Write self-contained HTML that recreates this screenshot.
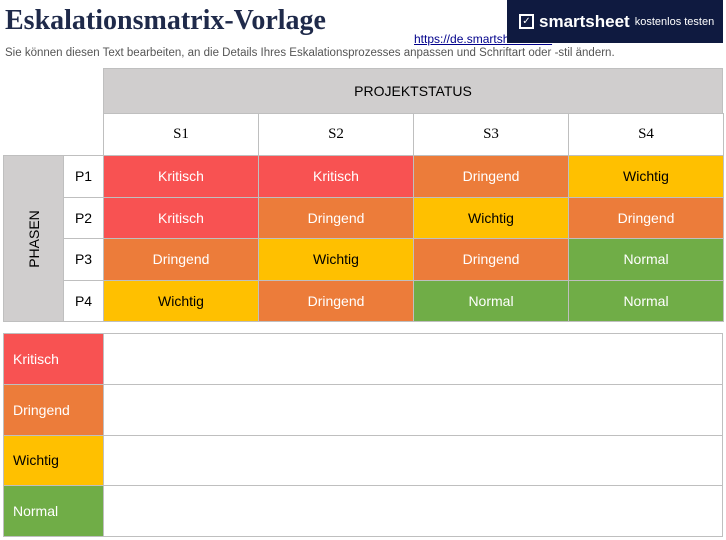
<!DOCTYPE html>
<html><head><meta charset="utf-8"><style>
body{margin:0;width:726px;height:540px;background:#fff;position:relative;font-family:"Liberation Sans",sans-serif;overflow:hidden}
.a{position:absolute;box-sizing:border-box;display:flex;align-items:center;justify-content:center;font-size:14px}
.b{border:1px solid #bfbfbf}
.r{background:#F85252;color:#fff}.o{background:#EC7C3A;color:#fff}.y{background:#FFC000;color:#000}.g{background:#70AD47;color:#fff}
</style></head><body>
<div style="position:absolute;left:5px;top:5px;font:bold 28px 'Liberation Serif',serif;color:#1f2a4a">Eskalationsmatrix-Vorlage</div>
<a style="position:absolute;left:414px;top:32px;font-size:12px;color:#00008b;text-decoration:underline">https://de.smartsheet.com</a>
<div style="position:absolute;left:507px;top:0;width:216px;height:43px;background:#0f1a40;color:#fff;display:flex;align-items:center;padding-left:12px;box-sizing:border-box"><span style="display:inline-block;width:11px;height:11px;border:2px solid #fff;font-size:10px;line-height:11px;text-align:center;margin-right:5px">✓</span><b style="font-size:17px">smartsheet</b><span style="font-size:11px;margin-left:5px">kostenlos testen</span></div>
<div style="position:absolute;left:5px;top:47px;font-size:11.5px;color:#555">Sie können diesen Text bearbeiten, an die Details Ihres Eskalationsprozesses anpassen und Schriftart oder -stil ändern.</div>
<div id="m"></div>
<script>
const cols=["S1","S2","S3","S4"];
const rows=["P1","P2","P3","P4"];
const vals=[["r","r","o","y"],["r","o","y","o"],["o","y","o","g"],["y","o","g","g"]];
const names={r:"Kritisch",o:"Dringend",y:"Wichtig",g:"Normal"};
const m=document.getElementById('m');
function box(x,y,w,h,cls,txt,name,st){const d=document.createElement('div');d.className='a b '+cls;


d.style.cssText+=`left:${x}px;top:${y}px;width:${w}px;height:${h}px;`+(st||'');d.textContent=txt;m.appendChild(d);return d;}
box(103,68,620,46,'','PROJEKTSTATUS','header-projektstatus','background:#d0cece');
cols.forEach((c,i)=>box(103+i*155,113,156,43,'',c,'col-'+c,'font-family:"Liberation Serif",serif;font-size:15px'));
const ph=box(3,155,61,167,'','','phasen-header','background:#d0cece');
ph.innerHTML='<span style="transform:rotate(-90deg);display:block;white-space:nowrap">PHASEN</span>';
rows.forEach((r,j)=>{const y=155+j*41.6;box(63,y,41,42.6,'',r,'row-'+r);
vals[j].forEach((v,i)=>box(103+i*155,y,156,42.6,v,names[v],'cell-'+r+'-'+cols[i]));});
["r","o","y","g"].forEach((v,k)=>{const y=333+k*50.8;box(3,y,101,51.8,v,names[v],'legend-'+names[v],'justify-content:flex-start;padding-left:9px');
box(103,y,620,51.8,'','','legend-desc-'+names[v]);});
</script>
</body></html>
